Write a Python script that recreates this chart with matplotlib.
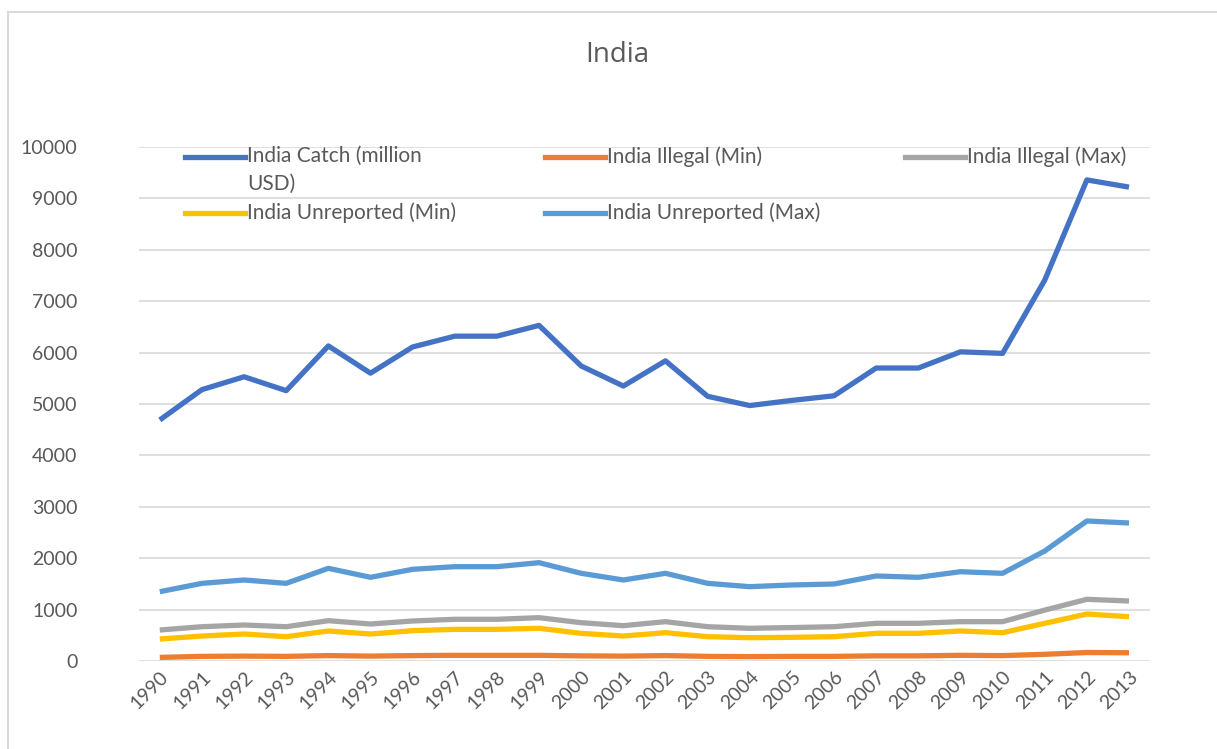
import matplotlib
matplotlib.use("Agg")
import matplotlib.pyplot as plt
from matplotlib.lines import Line2D
from matplotlib.patches import Rectangle

plt.rcParams['font.family'] = ['Lato', 'DejaVu Sans']

years = list(range(1990, 2014))

catch = [4690, 5280, 5530, 5260, 6130, 5600, 6110, 6320, 6320, 6530,
         5740, 5350, 5840, 5150, 4970, 5070, 5160, 5700, 5700, 6015,
         5985, 7410, 9360, 9220]
illegal_min = [70, 90, 95, 90, 105, 95, 105, 110, 110, 110,
               100, 95, 105, 90, 85, 90, 90, 100, 100, 110,
               105, 130, 165, 160]
illegal_max = [603, 667, 700, 667, 784, 720, 778, 811, 811, 843,
               745, 687, 765, 667, 636, 650, 667, 733, 733, 765,
               765, 990, 1200, 1167]
unrep_min = [428, 486, 525, 473, 584, 525, 590, 616, 616, 636,
             538, 486, 551, 473, 453, 460, 473, 538, 538, 584,
             551, 733, 914, 862]
unrep_max = [1348, 1511, 1576, 1511, 1803, 1628, 1784, 1835, 1835, 1913,
             1706, 1576, 1706, 1511, 1446, 1479, 1498, 1654, 1628, 1737,
             1706, 2140, 2724, 2685]

labels = ["India Catch (million\nUSD)", "India Illegal (Min)",
          "India Illegal (Max)", "India Unreported (Min)",
          "India Unreported (Max)"]
series = [catch, illegal_min, illegal_max, unrep_min, unrep_max]
colors = ["#4472C4", "#ED7D31", "#A5A5A5", "#FFC000", "#5B9BD5"]

fig = plt.figure(figsize=(12.17, 7.49), dpi=100)
ax = fig.add_axes([0.114, 0.1175, 0.831, 0.6862])

# chart frame
fig.patches.append(Rectangle((8 / 1217, -0.1), 1.2, 1 - 12 / 749 + 0.1,
                             transform=fig.transFigure, fill=False,
                             edgecolor="#D9D9D9", lw=1.5))

for vals, c in zip(series, colors):
    ax.plot(years, vals, color=c, lw=3.8, solid_joinstyle="round",
            solid_capstyle="butt", zorder=3)

ax.set_xlim(1989.5, 2013.5)
ax.set_ylim(0, 10000)
ax.set_yticks(range(0, 10001, 1000))
ax.set_xticks(years)
ax.set_xticklabels([str(y) for y in years], rotation=45, ha="right",
                   va="top", rotation_mode="anchor")
ax.tick_params(axis="both", length=0, labelsize=14, colors="#595959")
ax.tick_params(axis="y", pad=44)
ax.tick_params(axis="x", pad=5)
ax.grid(axis="y", color="#D9D9D9", lw=1.2, zorder=0)
for s in ax.spines.values():
    s.set_visible(False)

fig.text(0.507, 0.927, "India", ha="center", va="center", fontsize=20,
         color="#595959", family=["Open Sans", "DejaVu Sans"])

# legend drawn inside the plot area, three per row
legend_pos = [(185, 157), (545, 157), (905, 157), (185, 213), (545, 213)]
for (px, py), lab, c in zip(legend_pos, labels, colors):
    x0 = px / 1217
    y0 = 1 - py / 749
    fig.lines.append(Line2D([x0, x0 + 60 / 1217], [y0, y0], color=c, lw=3.8,
                            transform=fig.transFigure))
    fig.text(x0 + 62 / 1217, y0 + 11 / 749, lab, ha="left", va="top",
             fontsize=15, color="#595959", linespacing=1.5)

fig.savefig("out.png", dpi=100)
